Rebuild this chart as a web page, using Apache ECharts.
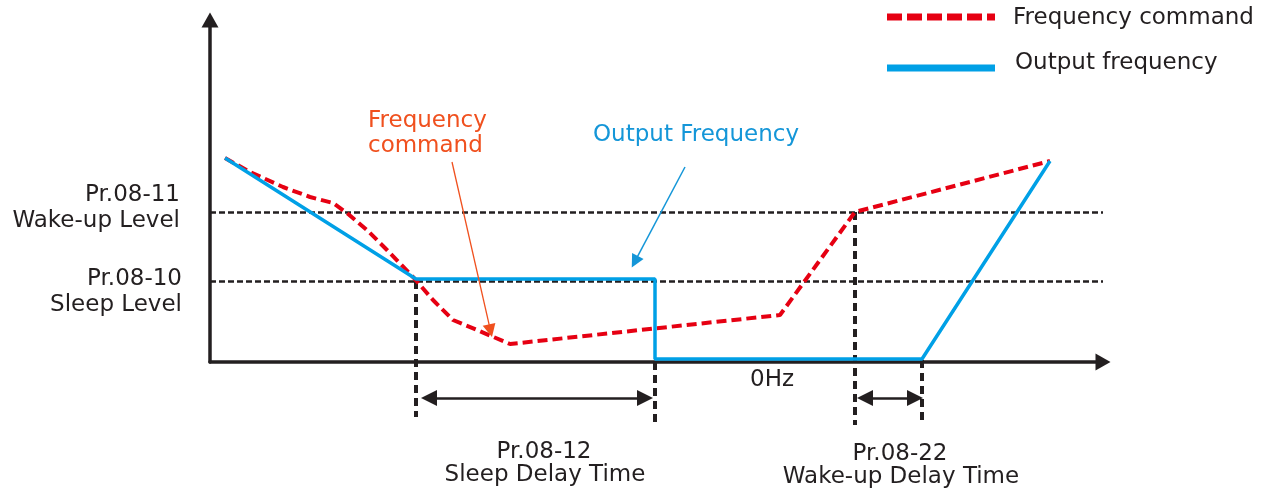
<!DOCTYPE html>
<html>
<head>
<meta charset="utf-8">
<script src="https://cdn.jsdelivr.net/npm/echarts@6/dist/echarts.min.js"></script>
<style>html,body{margin:0;padding:0;background:#fff}#c{width:1270px;height:490px}</style>
</head>
<body>
<div id="c"></div>
<script>
// ---- data (time units along x, frequency units along y) ----
const cmdTime = [15, 40, 73, 100, 123, 137, 157, 177, 203, 223, 243, 267, 300, 570, 645, 840];
const cmdFreq = [204, 190, 175, 165, 159, 149, 132, 112, 85, 62, 42, 32, 18, 47, 150, 201];
const outTime = [15, 206, 445, 445, 712, 840];
const outFreq = [204, 83, 83, 3, 3, 201];
const wakeLevel = 150;
const sleepLevel = 81;
const sleepStart = 206, sleepEnd = 445;   // sleep delay window
const wakeStart = 645, wakeEnd = 712;     // wake-up delay window
const levelLabels = [["Pr.08-11", "Wake-up Level"], ["Pr.08-10", "Sleep Level"]];
const delayLabels = [["Pr.08-12", "Sleep Delay Time"], ["Pr.08-22", "Wake-up Delay Time"]];
const legendNames = ["Frequency command", "Output frequency"];

const INK = '#231f20', RED = '#e60012', BLUE = '#00a0e6', ORANGE = '#f0501e', BLUE2 = '#1496d8';
const FONT = '23px "DejaVu Sans"';
const X_MAX = 893, Y_MAX = 342;

const zip = (a, b) => a.map((v, i) => [v, b[i]]);

const dashH = { type: [6, 3], width: 2.5, color: INK };
const dashV = { type: [8, 5], width: 4, color: INK };
const seg = (a, b, style) => ({ coords: [a, b], lineStyle: style });

const guideLines = [
  seg([0, wakeLevel], [X_MAX, wakeLevel], dashH),
  seg([0, sleepLevel], [X_MAX, sleepLevel], dashH),
  seg([sleepStart, sleepLevel], [sleepStart, -55], dashV),
  seg([sleepEnd, 0], [sleepEnd, -61], dashV),
  seg([wakeStart, wakeLevel], [wakeStart, -63], dashV),
  seg([wakeEnd, 2], [wakeEnd, -63], dashV)
];
const delayArrows = [
  seg([sleepStart + 13, -36], [sleepEnd - 10, -36]),
  seg([wakeStart + 10, -36], [wakeEnd - 7, -36])
];
const noteArrows = [
  seg([242, 200], [280.5, 31.3], { color: ORANGE, width: 1.3 }),
  seg([475, 195], [424.8, 100.3], { color: BLUE2, width: 1.5 })
];

function txt(text, x, y, align, color) {
  return { type: 'text', silent: true, style: { text: text, x: x, y: y, font: FONT, fill: color || INK,
    align: align, textAlign: align, verticalAlign: 'middle', textVerticalAlign: 'middle' } };
}

const chart = echarts.init(document.getElementById('c'));
chart.setOption({
  animation: false,
  backgroundColor: '#fff',
  grid: { left: 210, right: 1270 - 1103, top: 20, bottom: 128 },
  xAxis: {
    type: 'value', min: 0, max: X_MAX,
    axisLine: { show: true, onZero: false, symbol: ['none', 'triangle'], symbolSize: [17, 15], lineStyle: { color: INK, width: 3.5 } },
    axisTick: { show: false }, axisLabel: { show: false }, splitLine: { show: false }
  },
  yAxis: {
    type: 'value', min: 0, max: Y_MAX,
    axisLine: { show: true, onZero: false, symbol: ['none', 'triangle'], symbolSize: [17, 15], lineStyle: { color: INK, width: 3.5 } },
    axisTick: { show: false }, axisLabel: { show: false }, splitLine: { show: false }
  },
  series: [
    {
      name: 'guides', type: 'lines', coordinateSystem: 'cartesian2d', clip: false, z: 1, silent: true,
      symbol: ['none', 'none'], data: guideLines, lineStyle: { color: INK, opacity: 1 }
    },
    {
      name: 'delays', type: 'lines', coordinateSystem: 'cartesian2d', clip: false, z: 1, silent: true,
      symbol: ['triangle', 'triangle'], symbolSize: 16, data: delayArrows,
      lineStyle: { color: INK, width: 2.5, type: 'solid', opacity: 1 }
    },
    {
      name: 'notes', type: 'lines', coordinateSystem: 'cartesian2d', clip: false, z: 4, silent: true,
      symbol: ['none', 'triangle'], symbolSize: [10, 13], data: noteArrows,
      lineStyle: { type: 'solid', opacity: 1 }
    },
    {
      name: legendNames[0], type: 'line', data: zip(cmdTime, cmdFreq), showSymbol: false, symbol: 'none', z: 2,
      lineStyle: { color: RED, width: 4, type: [10, 5] }, silent: true
    },
    {
      name: legendNames[1], type: 'line', data: zip(outTime, outFreq), showSymbol: false, symbol: 'none', z: 3,
      lineStyle: { color: BLUE, width: 3.5 }, silent: true
    }
  ],
  graphic: [
    { type: 'line', silent: true, shape: { x1: 887, y1: 17, x2: 995, y2: 17 }, style: { stroke: RED, lineWidth: 7, lineDash: [15, 5] } },
    { type: 'line', silent: true, shape: { x1: 887, y1: 68, x2: 995, y2: 68 }, style: { stroke: BLUE, lineWidth: 7 } },
    txt(legendNames[0], 1013, 18, 'left'),
    txt(legendNames[1], 1015, 63, 'left'),
    txt(levelLabels[0][0], 180, 195, 'right'),
    txt(levelLabels[0][1], 180, 221, 'right'),
    txt(levelLabels[1][0], 182, 279, 'right'),
    txt(levelLabels[1][1], 182, 305, 'right'),
    txt(delayLabels[0][0], 544, 452, 'center'),
    txt(delayLabels[0][1], 545, 475, 'center'),
    txt(delayLabels[1][0], 900, 454, 'center'),
    txt(delayLabels[1][1], 901, 477, 'center'),
    txt('Frequency', 368, 121, 'left', ORANGE),
    txt('command', 368, 146, 'left', ORANGE),
    txt('Output Frequency', 593, 135, 'left', BLUE2),
    txt('0Hz', 750, 380, 'left')
  ]
});
</script>
</body>
</html>
